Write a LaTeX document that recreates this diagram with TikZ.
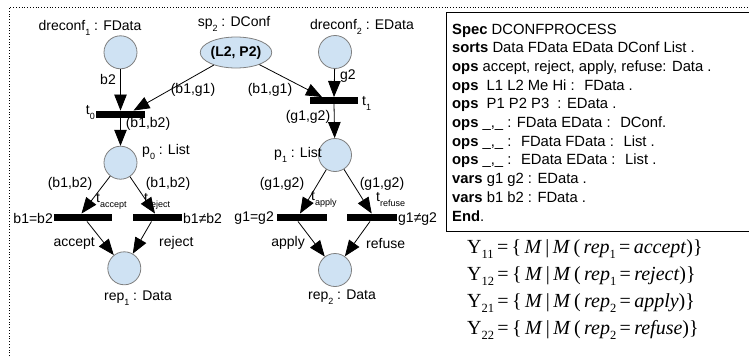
\documentclass[tikz,border=0pt]{standalone}
\usepackage{fontspec}
\setmainfont{Liberation Sans}
\newfontfamily\tnr{Liberation Serif}
\usetikzlibrary{arrows.meta,shapes.geometric,calc}
\definecolor{placefill}{HTML}{CFE2F3}
\definecolor{placeline}{HTML}{7F7F7F}
\newcommand{\lsub}[1]{\raisebox{-5pt}{\fontsize{9}{9}\selectfont #1}}
\newcommand{\fsub}[1]{\raisebox{-5pt}{\fontsize{12.5}{12.5}\selectfont #1}}
\begin{document}
\begin{tikzpicture}[x=1pt,y=-1pt,
 place/.style={circle,draw=placeline,fill=placefill,minimum size=33pt,inner sep=0pt,line width=0.8pt},
 trans/.style={rectangle,fill=black,inner sep=0pt,minimum height=7.5pt},
 arc/.style={-{Triangle[length=16pt,width=12.5pt]},line width=0.8pt},
 lbl/.style={font=\fontsize{14}{16}\selectfont,inner sep=0pt},
 spec/.style={font=\fontsize{14.8}{17}\selectfont,anchor=base west,inner sep=0pt},
 form/.style={font=\tnr\fontsize{20}{22}\selectfont,anchor=west,inner sep=0pt}
]
\useasboundingbox (0,0) rectangle (749,356);
% dotted frame
\coordinate (fl) at (9,356);
\coordinate (ftl) at (9,7.5);
\coordinate (fr) at (749,7.5);
\draw[dotted,line width=0.8pt] (fl) -- (ftl) -- (fr);

% places
\node[place] (d1) at (120.5,52.3) {};
\node[ellipse,draw=placeline,fill=placefill,line width=0.8pt,minimum width=66pt,minimum height=31pt,inner sep=0pt,font=\bfseries\fontsize{14}{16}\selectfont] (sp2) at (236,52.5) {(L2, P2)};
\node[place] (d2) at (335,52) {};
\node[place] (p0) at (120.5,162.7) {};
\node[place] (p1) at (335,155) {};
\node[place] (rep1) at (124.3,268.3) {};
\node[place] (rep2) at (335,270) {};

% transitions
\node[trans,minimum width=49pt] (t0) at (120.5,114.5) {};
\node[trans,minimum width=48pt,minimum height=6.5pt] (t1) at (334,100.5) {};
\node[trans,minimum width=58pt] (ta) at (82.5,217.5) {};
\node[trans,minimum width=49pt] (tr) at (157.5,217.5) {};
\node[trans,minimum width=50pt] (tap) at (301.7,217.5) {};
\node[trans,minimum width=50pt] (tre) at (371.7,217.5) {};

% arcs
\draw[arc] (d1) -- (t0.north);
\draw[arc] (sp2) -- ([xshift=13pt]t0.north);
\draw[arc] (t0.south) -- (p0);
\draw[arc] (d2) -- (t1.north);
\draw[arc] (sp2) -- ([xshift=-12pt]t1.north);
\draw[arc] (t1.south) -- (p1);
\draw[arc] (p0) -- ([xshift=-1pt]ta.north);
\draw[arc] (p0) -- ([xshift=-2.5pt]tr.north);
\draw[arc] ([xshift=4.5pt]ta.south) -- (rep1);
\draw[arc] ([xshift=-6pt]tr.south) -- (rep1);
\draw[arc] (p1) -- ([xshift=-1.7pt]tap.north);
\draw[arc] (p1) -- (tre.north);
\draw[arc] ([xshift=-3.7pt]tap.south) -- (rep2);
\draw[arc] ([xshift=-1.7pt]tre.south) -- (rep2);

% labels
\node[lbl] at (90,28) {dreconf\lsub{1} : FData};
\node[lbl] at (234,24) {sp\lsub{2} : DConf};
\node[lbl] at (362,27) {dreconf\lsub{2} : EData};
\node[lbl,anchor=east] at (116,79) {b2};
\node[lbl,anchor=west] at (340,76) {g2};
\node[lbl] at (193,90) {(b1,g1)};
\node[lbl] at (270,90) {(b1,g1)};
\node[lbl,anchor=east] at (95,113) {t\lsub{0}};
\node[lbl,anchor=west] at (362,103) {t\lsub{1}};
\node[lbl] at (148,124) {(b1,b2)};
\node[lbl] at (308,117) {(g1,g2)};
\node[lbl] at (166,152) {p\lsub{0} : List};
\node[lbl] at (298,155) {p\lsub{1} : List};
\node[lbl] at (70,184) {(b1,b2)};
\node[lbl] at (168,184) {(b1,b2)};
\node[lbl] at (282,184) {(g1,g2)};
\node[lbl] at (382,184) {(g1,g2)};
\node[lbl,anchor=west] at (96,201) {t\lsub{accept}};
\node[lbl,anchor=west] at (144,201) {t\lsub{reject}};
\node[lbl,anchor=west] at (311,199) {t\lsub{apply}};
\node[lbl,anchor=west] at (376,200) {t\lsub{refuse}};
\node[lbl,anchor=east] at (53,218) {b1=b2};
\node[lbl,anchor=west] at (183,218) {b1≠b2};
\node[lbl,anchor=east] at (274,218) {g1=g2};
\node[lbl,anchor=west] at (398,219) {g1≠g2};
\node[lbl,anchor=east] at (95,243) {accept};
\node[lbl,anchor=west] at (159,243) {reject};
\node[lbl,anchor=east] at (305,243) {apply};
\node[lbl,anchor=west] at (366,243) {refuse};
\node[lbl] at (138,298) {rep\lsub{1} : Data};
\node[lbl] at (342,297) {rep\lsub{2} : Data};

% spec box
\coordinate (sb1) at (446.5,12.5);
\coordinate (sb2) at (760,231);
\draw[line width=0.8pt] (sb1) rectangle (sb2);
\node[spec] (s1) at (452,34) {\textbf{Spec} DCONFPROCESS};
\node[spec] (s2) at (452,52.7) {\textbf{sorts} Data FData EData DConf List .};
\node[spec] (s3) at (452,71.4) {\textbf{ops} accept, reject, apply, refuse: Data .};
\node[spec] (s4) at (452,90.1) {\textbf{ops} ~L1 L2 Me Hi : ~FData .};
\node[spec] (s5) at (452,108.8) {\textbf{ops} ~P1 P2 P3 ~: EData .};
\node[spec] (s6) at (452,127.5) {\textbf{ops} \_,\_ : FData EData : ~DConf.};
\node[spec] (s7) at (452,146.2) {\textbf{ops} \_,\_ : ~FData FData : ~List .};
\node[spec] (s8) at (452,164.9) {\textbf{ops} \_,\_ : ~EData EData : ~List .};
\node[spec] (s9) at (452,183.6) {\textbf{vars} g1 g2 : EData .};
\node[spec] (s10) at (452,202.3) {\textbf{vars} b1 b2 : FData .};
\node[spec] (s11) at (452,221) {\textbf{End}.};

% formulas
\node[form] (y11) at (467,249) {Y\fsub{11}\,=\,\{\,\textit{M}\,|\,\textit{M}\,(\,\textit{rep}\fsub{1}\,=\,\textit{accept})\}};
\node[form] (y12) at (467,276) {Y\fsub{12}\,=\,\{\,\textit{M}\,|\,\textit{M}\,(\,\textit{rep}\fsub{1}\,=\,\textit{reject})\}};
\node[form] (y21) at (467,303) {Y\fsub{21}\,=\,\{\,\textit{M}\,|\,\textit{M}\,(\,\textit{rep}\fsub{2}\,=\,\textit{apply})\}};
\node[form] (y22) at (467,330) {Y\fsub{22}\,=\,\{\,\textit{M}\,|\,\textit{M}\,(\,\textit{rep}\fsub{2}\,=\,\textit{refuse})\}};
\end{tikzpicture}
\end{document}
